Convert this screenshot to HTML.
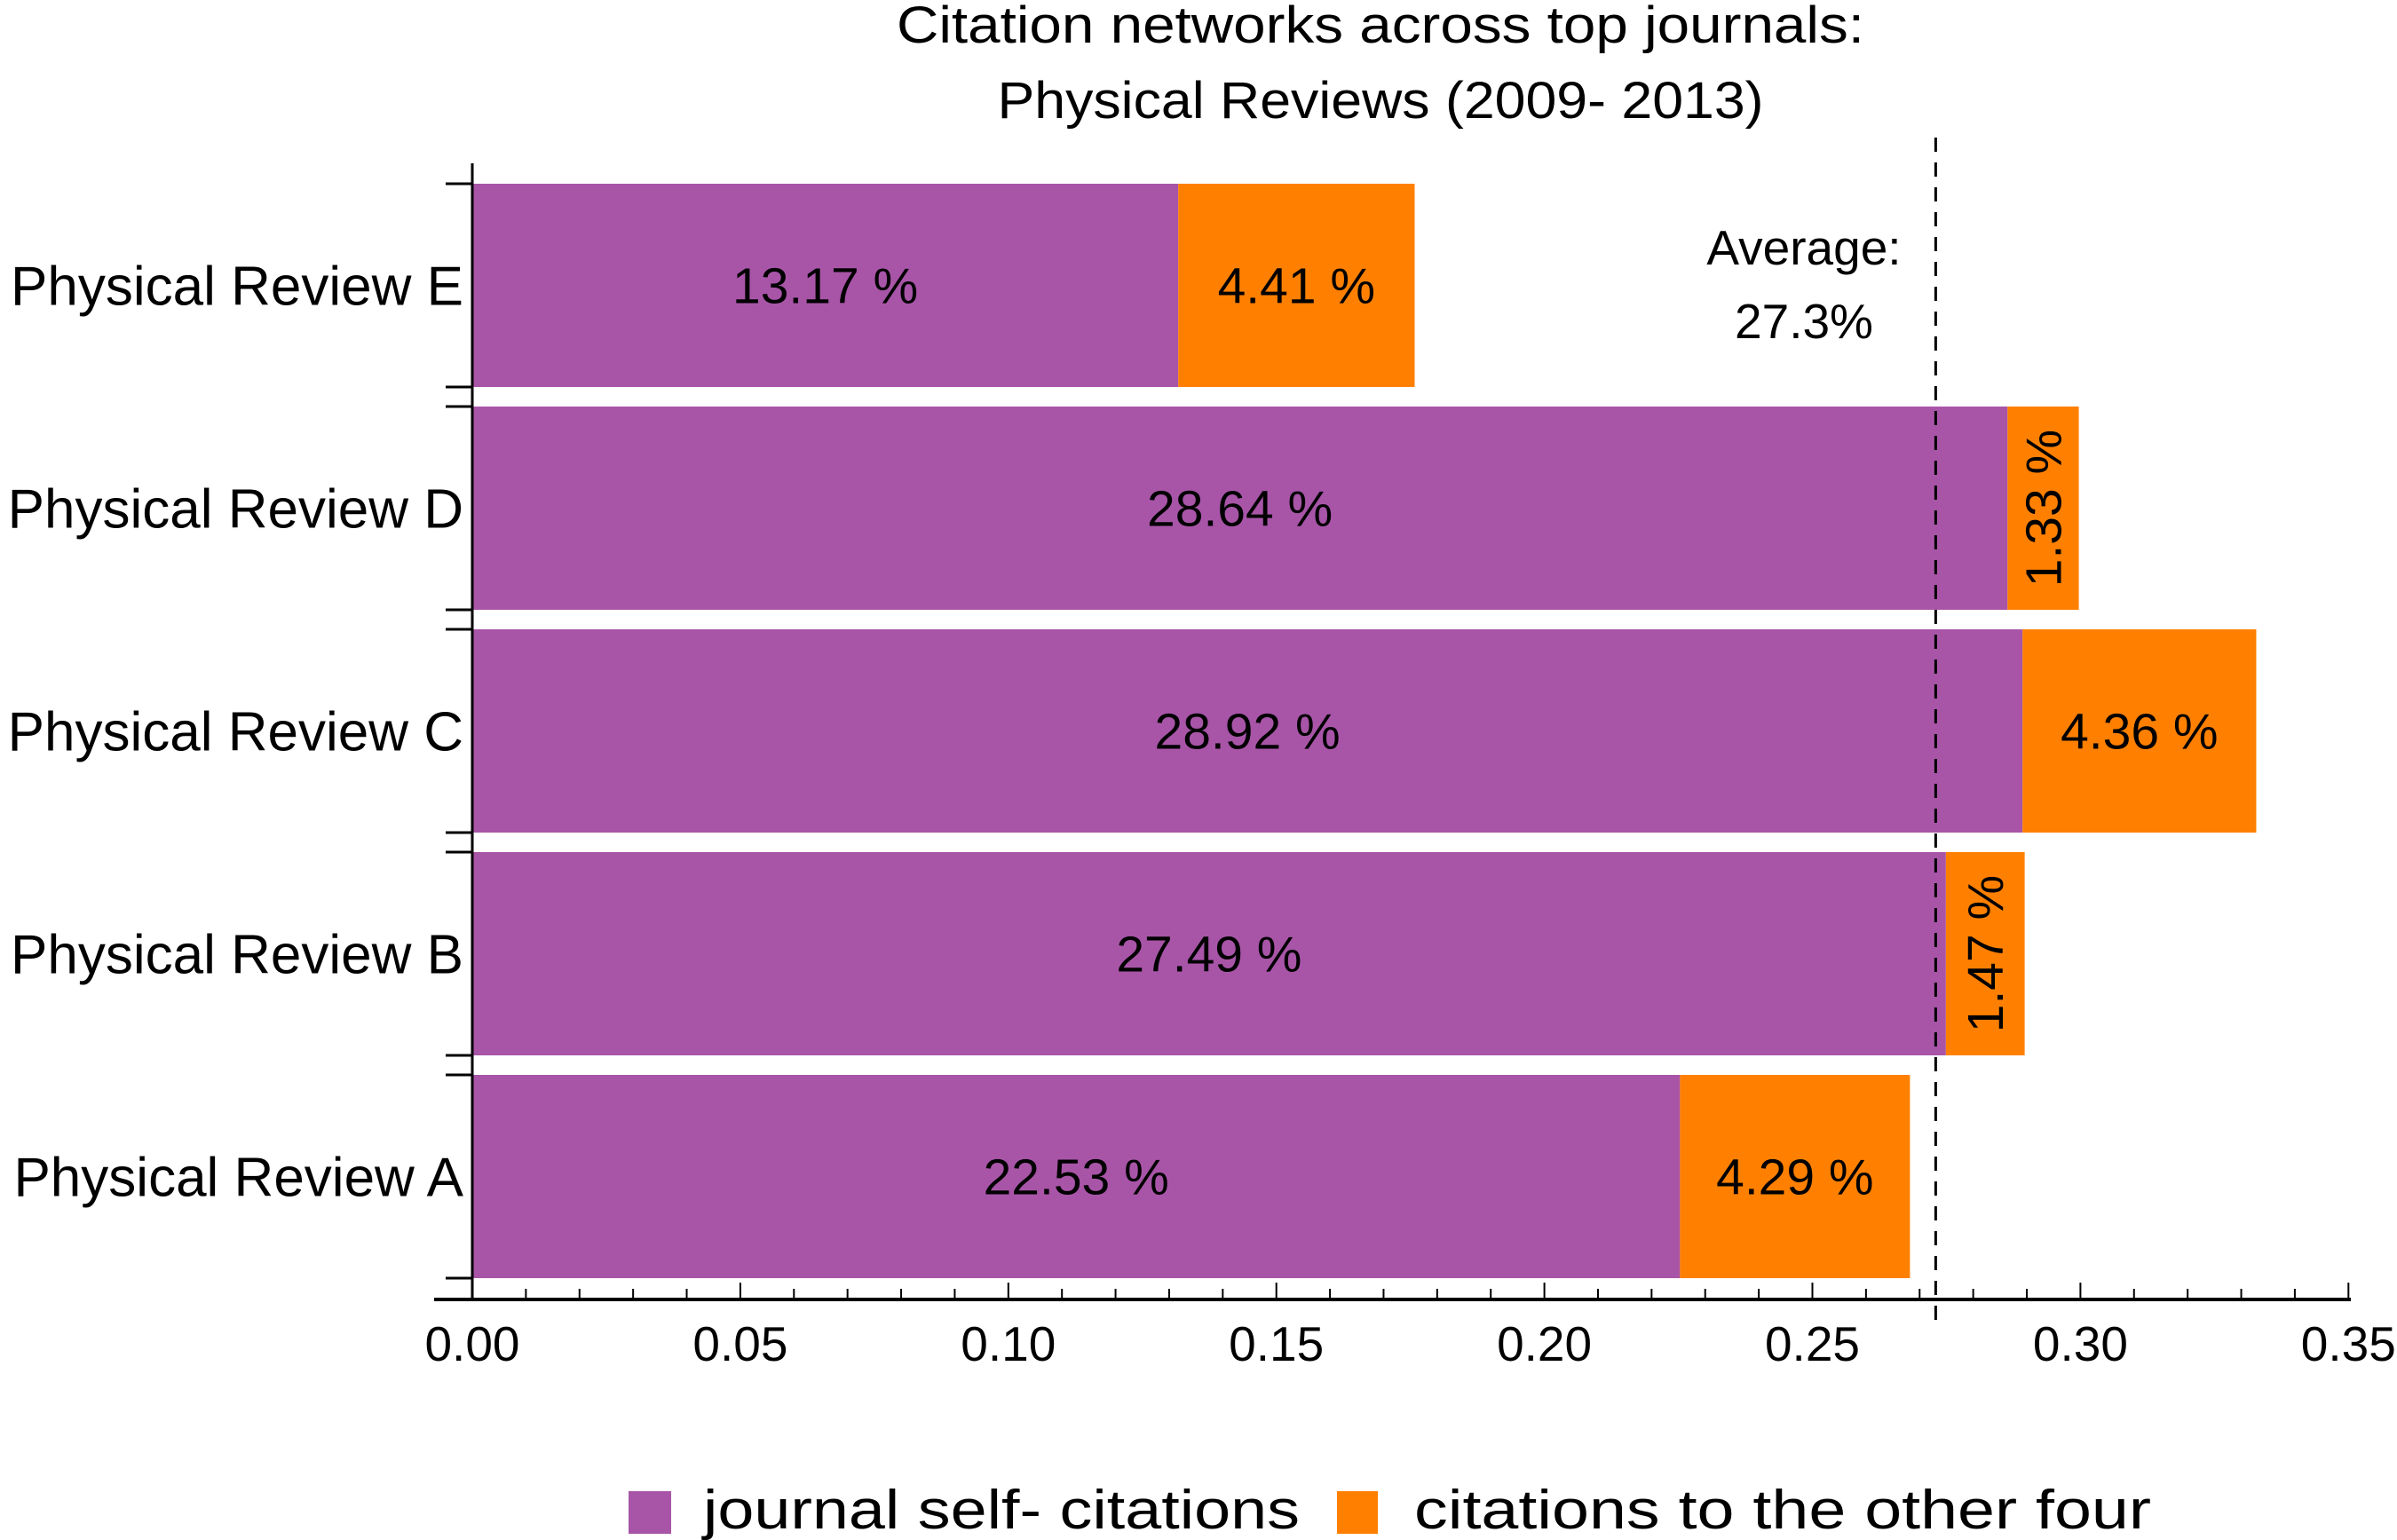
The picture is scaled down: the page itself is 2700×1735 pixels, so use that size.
<!DOCTYPE html>
<html><head><meta charset="utf-8"><style>
html,body{margin:0;padding:0;background:#fff;}
svg{display:block;font-family:"Liberation Sans",sans-serif;}
</style></head><body>
<svg id="chart" width="2700" height="1735" viewBox="0 0 2700 1735" xmlns="http://www.w3.org/2000/svg">
<text x="1555" y="48" font-size="58" text-anchor="middle" textLength="1090" lengthAdjust="spacingAndGlyphs">Citation networks across top journals:</text>
<text x="1555" y="133" font-size="58" text-anchor="middle" textLength="863" lengthAdjust="spacingAndGlyphs">Physical Reviews (2009- 2013)</text>
<g id="plot"></g>
<g>
<rect x="708" y="1680" width="48" height="48" fill="#a855a8"/>
<text x="792" y="1722" font-size="62" textLength="672" lengthAdjust="spacingAndGlyphs">journal self- citations</text>
<rect x="1506" y="1680" width="46" height="48" fill="#ff8000"/>
<text x="1593" y="1722" font-size="62" textLength="830" lengthAdjust="spacingAndGlyphs">citations to the other four</text>
</g>
</svg>
<script>
const categories = ["Physical Review A","Physical Review B","Physical Review C","Physical Review D","Physical Review E"];
const selfVals = [22.53, 27.49, 28.92, 28.64, 13.17];
const otherVals = [4.29, 1.47, 4.36, 1.33, 4.41];
const xTicks = [0.00,0.05,0.10,0.15,0.20,0.25,0.30,0.35];
const xTickLabels = ["0.00","0.05","0.10","0.15","0.20","0.25","0.30","0.35"];
const averageVal = 0.273;
const averageLabel = ["Average:","27.3%"];

const NS="http://www.w3.org/2000/svg";
const g=document.getElementById('plot');
const X0=532, XS=6038, TOP=207, BH=229, PITCH=251, AXY=1464;
const xPos=v=>X0+v*XS;
const yTop=i=>TOP+(categories.length-1-i)*PITCH;
function mk(tag,attrs){const e=document.createElementNS(NS,tag);for(const k in attrs)e.setAttribute(k,attrs[k]);g.appendChild(e);return e;}

categories.forEach((c,i)=>{
  const y=yTop(i), s=selfVals[i]/100, o=otherVals[i]/100;
  const r1=mk('rect',{x:xPos(0),y:y,width:xPos(s)-xPos(0),height:BH,fill:'#a855a8'});
  
  
  const r2=mk('rect',{x:xPos(s),y:y,width:xPos(s+o)-xPos(s),height:BH,fill:'#ff8000'});
  
  
  const t1=mk('text',{x:(xPos(0)+xPos(s))/2,y:y+BH/2+20,'font-size':57,'text-anchor':'middle'});
  t1.textContent=selfVals[i].toFixed(2)+' %';
  
  
  const cx=(xPos(s)+xPos(s+o))/2, cy=y+BH/2;
  const t2=mk('text',{'font-size':57,'text-anchor':'middle'});
  t2.textContent=otherVals[i].toFixed(2)+' %';
  
  
  if(xPos(s+o)-xPos(s)<150){t2.setAttribute('transform','translate('+(cx+20)+','+cy+') rotate(-90)');}
  else{t2.setAttribute('x',cx);t2.setAttribute('y',cy+20);}
  const lb=mk('text',{x:522,y:y+BH/2+22,'font-size':62,'text-anchor':'end'});
  lb.textContent=c;
  
  
  [y,y+BH].forEach(yy=>{const tk=mk('line',{x1:502,x2:X0,y1:yy,y2:yy,stroke:'#000','stroke-width':3});
    
    });
});
const ya=mk('line',{x1:X0,x2:X0,y1:184,y2:AXY,stroke:'#000','stroke-width':3});


const xa=mk('line',{x1:489,x2:2648,y1:AXY,y2:AXY,stroke:'#000','stroke-width':4});


for(let k=0;k<=35;k++){
  const v=k/100, major=k%5===0;
  const tk=mk('line',{x1:xPos(v),x2:xPos(v),y1:AXY,y2:AXY-(major?19:12),stroke:'#000','stroke-width':2});
  
  
}
xTicks.forEach((v,i)=>{
  const t=mk('text',{x:xPos(v),y:1533,'font-size':55,'text-anchor':'middle'});
  t.textContent=xTickLabels[i];
  
  
});
const av=mk('line',{x1:xPos(averageVal),x2:xPos(averageVal),y1:155,y2:1498,stroke:'#000','stroke-width':3,'stroke-dasharray':'16,12'});


averageLabel.forEach((s,i)=>{
  const t=mk('text',{x:2032,y:298+i*83,'font-size':55,'text-anchor':'middle'});
  t.textContent=s;
  
  
});
</script>
</body></html>
